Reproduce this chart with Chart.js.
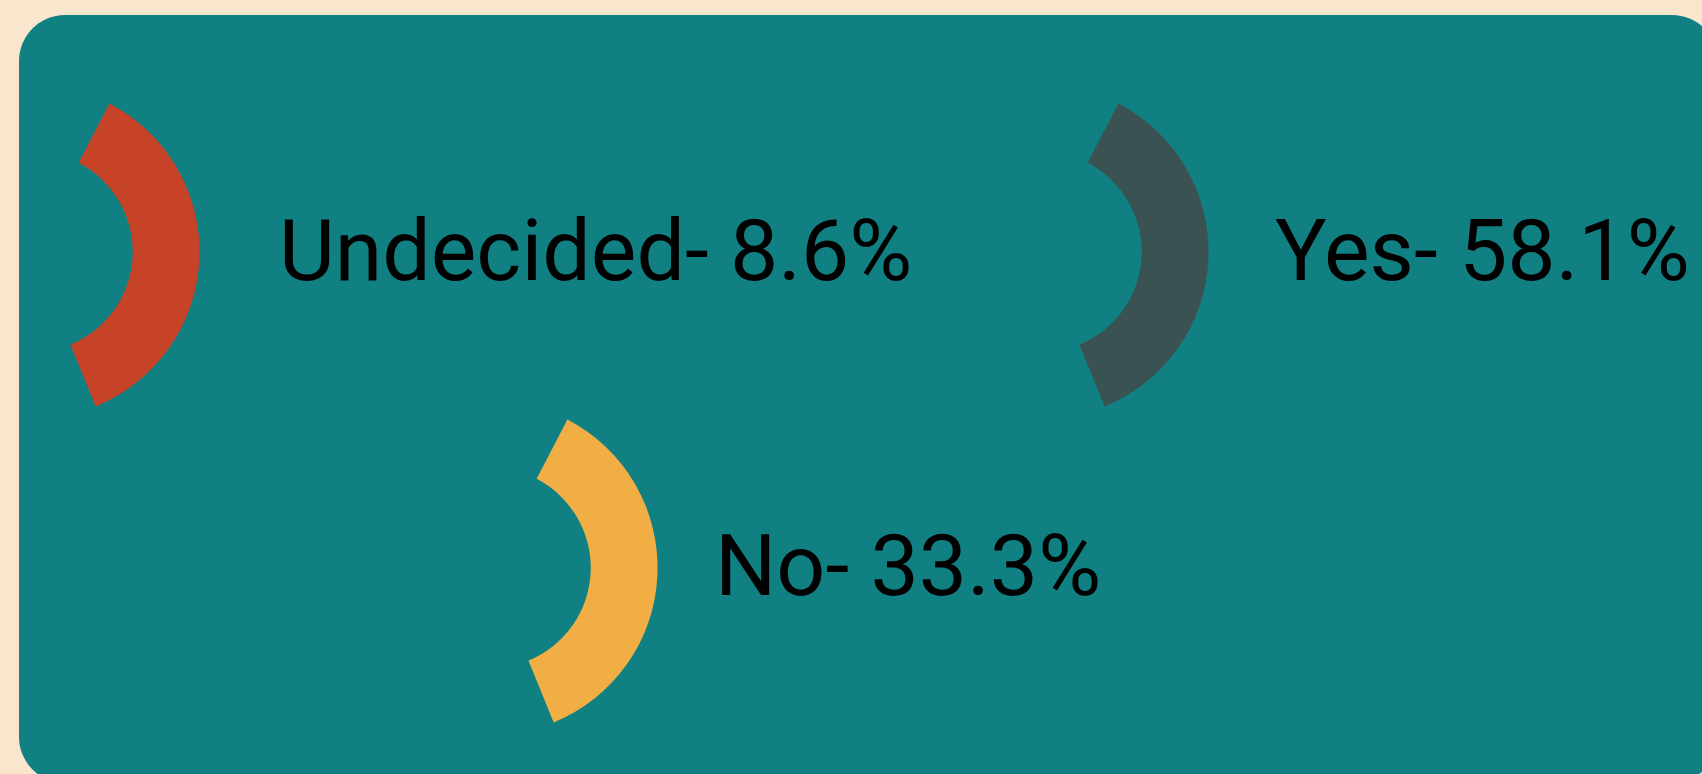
<!DOCTYPE html>
<html>
<head>
<meta charset="utf-8">
<script src="https://cdn.jsdelivr.net/npm/chart.js@4"></script>
<style>
  html, body {
    margin: 0;
    padding: 0;
    width: 1702px;
    height: 774px;
    overflow: hidden;
    background: #f9e6cd;
    font-family: Roboto, "Noto Sans", sans-serif;
  }
  #board {
    position: absolute;
    left: 19px;
    top: 15px;
    width: 1699px;
    height: 768px;
    background: #118083;
    border-radius: 46px;
    overflow: hidden;
  }
  .ring {
    position: absolute;
  }
  .label {
    position: absolute;
    font-size: 86px;
    line-height: 1;
    color: #000;
    white-space: nowrap;
  }
</style>
</head>
<body>
<div id="board"></div>
<script>
// poll results
const categories = ['Undecided', 'Yes', 'No'];
const shares = [8.6, 58.1, 33.3];

// look of each ring
const ringColors = ['#c64328', '#3a5252', '#f0ae44'];
// where each item sits inside the board (canvas top-left, label top-left)
const ringSpots = [[-54, 70], [955, 70], [404, 386]];
const labelSpots = [[260, 193], [1256, 193], [696, 508]];

const board = document.getElementById('board');

function addRing(i) {
    var canvas = document.createElement('canvas');
    canvas.width = 340;
    canvas.height = 340;
    canvas.className = 'ring';
    canvas.style.left = ringSpots[i][0] + 'px';
    canvas.style.top = ringSpots[i][1] + 'px';
    board.appendChild(canvas);

    new Chart(canvas, {
        type: 'doughnut',
        data: {
            labels: [categories[i]],
            datasets: [{
                data: [shares[i]],
                backgroundColor: ringColors[i],
                borderWidth: 0
            }]
        },
        options: {
            responsive: false,
            animation: false,
            rotation: 27.4,
            circumference: 130.4,
            cutout: '60%',
            radius: 167,
            plugins: {
                legend: { display: false },
                tooltip: { enabled: false }
            }
        }
    });

    var label = document.createElement('div');
    label.className = 'label';
    label.style.left = labelSpots[i][0] + 'px';
    label.style.top = labelSpots[i][1] + 'px';
    label.textContent = categories[i] + '- ' + shares[i] + '%';
    board.appendChild(label);
}

for (var i = 0; i < categories.length; i++) {
    addRing(i);
}
</script>
</body>
</html>
